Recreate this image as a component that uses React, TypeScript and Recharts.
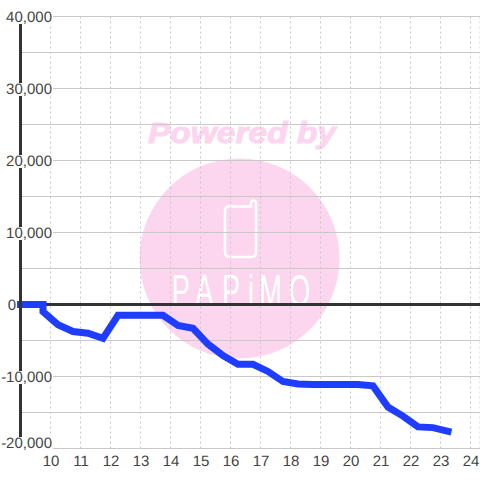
import { LineChart, Line, XAxis, YAxis, CartesianGrid, ReferenceLine } from 'recharts'

const hours = [9, 9.75, 9.75, 10.25, 10.75, 11.25, 11.75, 12.25, 12.75, 13.25, 13.75, 14.25, 14.75, 15.25, 15.75, 16.25, 16.75, 17.25, 17.75, 18.25, 18.75, 19.25, 19.75, 20.25, 20.75, 21.25, 21.75, 22.25, 22.75, 23.25]
const balance = [0, 0, -1000, -2800, -3750, -4000, -4700, -1500, -1500, -1500, -1500, -2900, -3300, -5500, -7100, -8300, -8300, -9300, -10700, -11050, -11100, -11100, -11100, -11100, -11300, -14250, -15500, -17000, -17100, -17600]

const xTicks = [10, 11, 12, 13, 14, 15, 16, 17, 18, 19, 20, 21, 22, 23, 24]
const yTicks = [-20000, -10000, 0, 10000, 20000, 30000, 40000]
const yGridValues = [-20000, -15000, -10000, -5000, 0, 5000, 10000, 15000, 20000, 25000, 30000, 35000, 40000]

const data = hours.map((hour, i) => ({ hour, balance: balance[i] }))

const FONT = '"Liberation Sans", Arial, sans-serif'

const YTick = ({ y, payload }: any) => {
  const value = payload.value
  if (value === 0) {
    return (
      <text x={16} y={y + 5.5} textAnchor="end" fontSize={15} fontFamily={FONT} fill="#444" textRendering="geometricPrecision">
        0
      </text>
    )
  }
  // the bottom label sits a little higher than its gridline
  const cy = value === -20000 ? y - 6 : y
  return (
    <g>
      <rect x={0} y={cy - 5.5} width={53} height={13} fill="#fff" />
      <text x={52} y={cy + 5.5} textAnchor="end" fontSize={15} fontFamily={FONT} fill="#444" textRendering="geometricPrecision">
        {value.toLocaleString('en-US')}
      </text>
    </g>
  )
}

const XTick = ({ x, payload }: any) => (
  <text x={x + 0.5} y={466} textAnchor="middle" fontSize={15} fontFamily={FONT} fill="#444" textRendering="geometricPrecision">
    {payload.value}
  </text>
)

function Watermark() {
  return (
    <svg width={480} height={480} style={{ position: 'absolute', left: 0, top: 0 }}>
      <rect width={480} height={480} fill="#fff" />
      <text x={148} y={143} fontSize={30} fontWeight="bold" fontStyle="italic" fontFamily={FONT} fill="#fcd6ee" stroke="#fcd6ee" textLength={188} lengthAdjust="spacingAndGlyphs">
        Powered by
      </text>
      <circle cx={239.5} cy={258.5} r={100} fill="#fcd6ee" />
      <path d="M229 206.5 H251 V203 Q251 200.5 253.5 200.5 Q256 200.5 256 203 V252 Q256 257 251 257 H230 Q225 257 225 252 V211 Q225 206.5 229 206.5 Z" fill="none" stroke="#fff" strokeWidth={2.5} />
      <text
        transform="translate(0 306) scale(0.62 1)"
        x="277 315 358 400 418 466"
        y={0}
        fontSize={44}
        fontFamily={FONT}
        fill="#fff"
      >
        PAPiMO
      </text>
    </svg>
  )
}

export default function App() {
  return (
    <div style={{ position: 'absolute', left: 0, top: 0, width: 480, height: 480 }}>
      <Watermark />
      <div style={{ position: 'absolute', left: 0, top: 0 }}>
        <LineChart width={480} height={480} data={data} margin={{ top: 16.5, right: 0, bottom: 0, left: 0 }}>
          <CartesianGrid horizontal={true} vertical={false} stroke="#c8c8c8" horizontalValues={yGridValues} />
          <CartesianGrid horizontal={false} vertical={true} stroke="#c8c8c8" strokeDasharray="2 3" />
          <XAxis
            type="number"
            dataKey="hour"
            domain={[9, 24.317]}
            ticks={xTicks}
            height={31.5}
            axisLine={false}
            tickLine={false}
            tick={<XTick />}
            interval={0}
          />
          <YAxis
            type="number"
            width={20.5}
            domain={[-20000, 40000]}
            ticks={yTicks}
            axisLine={{ stroke: '#333', strokeWidth: 3 }}
            tickLine={false}
            tick={<YTick />}
            interval={0}
          />
          <ReferenceLine y={0} stroke="#333" strokeWidth={3} />
          <Line
            type="linear"
            dataKey="balance"
            stroke="#1f3dff"
            strokeWidth={7}
            strokeLinecap="square"
            strokeLinejoin="miter"
            dot={false}
            activeDot={false}
            isAnimationActive={false}
          />
        </LineChart>
      </div>
    </div>
  )
}
